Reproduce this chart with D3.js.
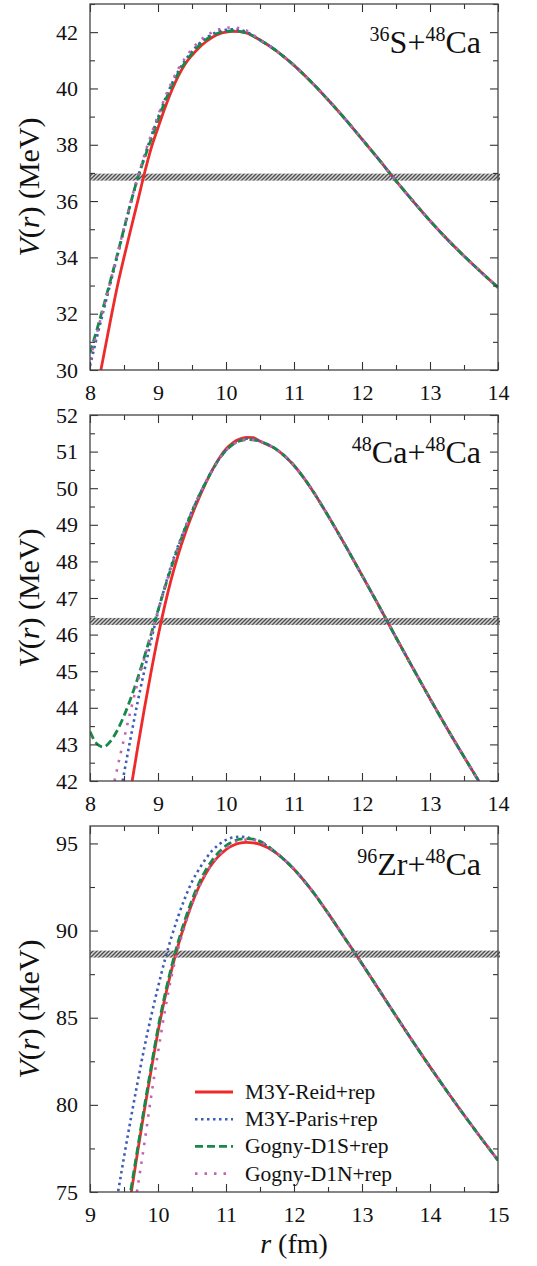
<!DOCTYPE html>
<html>
<head>
<meta charset="utf-8">
<script src="https://cdn.jsdelivr.net/npm/d3@7"></script>
<style>
body { margin: 0; background: #fff; }
</style>
</head>
<body>
<svg id="chart" width="537" height="1266"></svg>
<script>
const seriesNames = ["M3Y-Reid+rep", "M3Y-Paris+rep", "Gogny-D1S+rep", "Gogny-D1N+rep"];

// 36S+48Ca, r (fm) and V (MeV)
const reid1 = [[8.16,30.0],[8.2,30.5],[8.3,31.75],[8.4,32.95],[8.5,34.0],[8.6,35.0],[8.7,35.98],[8.8,36.98],[8.9,37.88],[9.0,38.6],[9.1,39.3],[9.2,39.92],[9.3,40.45],[9.4,40.87],[9.5,41.18],[9.6,41.44],[9.7,41.65],[9.8,41.82],[9.9,41.94],[10.0,42.0],[10.1,42.03],[10.2,42.02],[10.3,41.97]];
const paris1 = [[8.0,30.15],[8.1,31.15],[8.2,32.12],[8.3,33.07],[8.4,34.02],[8.5,34.98],[8.6,35.92],[8.7,36.8],[8.8,37.58],[8.9,38.3],[9.0,38.97],[9.1,39.6],[9.2,40.15],[9.3,40.62],[9.4,41.0],[9.5,41.32],[9.6,41.58],[9.7,41.78],[9.8,41.93],[9.9,42.03],[10.0,42.08],[10.1,42.1],[10.2,42.08],[10.3,42.01]];
const d1s1 = [[8.0,30.6],[8.1,31.42],[8.2,32.28],[8.3,33.17],[8.4,34.08],[8.5,35.02],[8.6,35.95],[8.7,36.8],[8.8,37.52],[8.9,38.2],[9.0,38.88],[9.1,39.52],[9.2,40.08],[9.3,40.55],[9.4,40.93],[9.5,41.25],[9.6,41.52],[9.7,41.73],[9.8,41.88],[9.9,41.98],[10.0,42.03],[10.1,42.05],[10.2,42.03],[10.3,41.97]];
const d1n1 = [[8.0,30.38],[8.1,31.3],[8.2,32.22],[8.3,33.15],[8.4,34.1],[8.5,35.05],[8.6,35.98],[8.7,36.85],[8.8,37.63],[8.9,38.36],[9.0,39.03],[9.1,39.66],[9.2,40.22],[9.3,40.7],[9.4,41.08],[9.5,41.4],[9.6,41.66],[9.7,41.86],[9.8,42.0],[9.9,42.1],[10.0,42.15],[10.1,42.17],[10.2,42.14],[10.3,42.06]];
const tail1 = [[10.5,41.72],[10.75,41.32],[11,40.82],[11.25,40.24],[11.5,39.6],[11.75,38.92],[12,38.2],[12.25,37.47],[12.5,36.72],[12.75,36.0],[13,35.3],[13.25,34.65],[13.5,34.05],[13.75,33.48],[14,32.93]];

// 48Ca+48Ca
const reid2 = [[8.62,42.0],[8.7,42.9],[8.8,43.98],[8.9,45.0],[9.0,45.95],[9.1,46.8],[9.2,47.55],[9.3,48.2],[9.4,48.77],[9.5,49.27],[9.6,49.72],[9.7,50.13],[9.8,50.5],[9.9,50.82],[10.0,51.07],[10.1,51.24],[10.2,51.34],[10.3,51.39],[10.4,51.38]];
const paris2 = [[8.48,42.0],[8.6,43.2],[8.7,44.15],[8.8,45.02],[8.9,45.85],[9.0,46.62],[9.1,47.3],[9.2,47.92],[9.3,48.45],[9.4,48.93],[9.5,49.38],[9.6,49.79],[9.7,50.16],[9.8,50.5],[9.9,50.8],[10.0,51.04],[10.1,51.2],[10.2,51.3],[10.3,51.35],[10.4,51.35]];
const d1s2 = [[8.0,43.35],[8.1,43.02],[8.2,42.93],[8.3,43.08],[8.4,43.38],[8.5,43.78],[8.6,44.26],[8.7,44.8],[8.8,45.4],[8.9,46.02],[9.0,46.66],[9.1,47.28],[9.2,47.86],[9.3,48.4],[9.4,48.9],[9.5,49.36],[9.6,49.78],[9.7,50.15],[9.8,50.5],[9.9,50.8],[10.0,51.03],[10.1,51.19],[10.2,51.29],[10.3,51.33],[10.4,51.32]];
const d1n2 = [[8.36,42.0],[8.45,42.75],[8.5,43.15],[8.6,43.94],[8.7,44.68],[8.8,45.35],[8.9,46.0],[9.0,46.66],[9.1,47.28],[9.2,47.86],[9.3,48.4],[9.4,48.9],[9.5,49.36],[9.6,49.78],[9.7,50.15],[9.8,50.5],[9.9,50.8],[10.0,51.03],[10.1,51.19],[10.2,51.29],[10.3,51.33],[10.4,51.32]];
const tail2 = [[10.5,51.28],[10.75,51.05],[11,50.62],[11.25,50.0],[11.5,49.25],[11.75,48.45],[12,47.62],[12.25,46.78],[12.5,45.92],[12.75,45.08],[13,44.25],[13.25,43.44],[13.5,42.66],[13.75,41.9]];

// 96Zr+48Ca
const reid3 = [[9.6,74.8],[9.7,77.3],[9.8,79.7],[9.9,82.0],[10.0,84.2],[10.1,86.1],[10.2,87.75],[10.3,89.2],[10.4,90.45],[10.5,91.55],[10.6,92.5],[10.7,93.25],[10.8,93.85],[10.9,94.3],[11.0,94.65],[11.1,94.88],[11.2,95.02],[11.3,95.06],[11.4,95.03],[11.5,94.95]];
const paris3 = [[9.4,74.7],[9.5,77.0],[9.6,79.2],[9.7,81.3],[9.8,83.3],[9.9,85.1],[10.0,86.75],[10.1,88.3],[10.2,89.65],[10.3,90.85],[10.4,91.9],[10.5,92.8],[10.6,93.5],[10.7,94.1],[10.8,94.6],[10.9,94.95],[11.0,95.2],[11.1,95.34],[11.2,95.38],[11.3,95.35],[11.4,95.25],[11.5,95.1]];
const d1s3 = [[9.6,75.1],[9.7,77.5],[9.8,79.9],[9.9,82.2],[10.0,84.4],[10.1,86.3],[10.2,87.95],[10.3,89.4],[10.4,90.65],[10.5,91.75],[10.6,92.7],[10.7,93.45],[10.8,94.05],[10.9,94.52],[11.0,94.87],[11.1,95.1],[11.2,95.24],[11.3,95.28],[11.4,95.25],[11.5,95.12]];
const d1n3 = [[9.69,75.0],[9.8,77.8],[9.9,80.5],[10.0,83.0],[10.1,85.35],[10.2,87.4],[10.3,89.0],[10.4,90.35],[10.5,91.5],[10.6,92.45],[10.7,93.25],[10.8,93.85],[10.9,94.35],[11.0,94.72],[11.1,95.0],[11.2,95.16],[11.3,95.22],[11.4,95.2],[11.5,95.1]];
const tail3 = [[11.75,94.42],[12,93.52],[12.25,92.36],[12.5,91.0],[12.75,89.55],[13,88.1],[13.25,86.6],[13.5,85.1],[13.75,83.62],[14,82.18],[14.25,80.78],[14.5,79.42],[14.75,78.1],[15,76.82]];

// barrier-energy bands (MeV)
const bandValues = [36.85, 46.36, 88.65];

const xTicks1 = [8, 9, 10, 11, 12, 13, 14];
const xTicks3 = [9, 10, 11, 12, 13, 14, 15];
const yTicks1 = [30, 32, 34, 36, 38, 40, 42];
const yTicks2 = [42, 43, 44, 45, 46, 47, 48, 49, 50, 51, 52];
const yTicks3 = [75, 80, 85, 90, 95];

const reactionLabels = [["36", "S+", "48", "Ca"], ["48", "Ca+", "48", "Ca"], ["96", "Zr+", "48", "Ca"]];

const panels = [
    {xDomain: [8, 14], yDomain: [30, 43], xTicks: xTicks1, yTicks: yTicks1, yMinor: 1,
     series: [reid1, paris1, d1s1, d1n1].map(s => s.concat(tail1))},
    {xDomain: [8, 14], yDomain: [42, 52], xTicks: xTicks1, yTicks: yTicks2, yMinor: 0.5,
     series: [reid2, paris2, d1s2, d1n2].map(s => s.concat(tail2))},
    {xDomain: [9, 15], yDomain: [75, 96], xTicks: xTicks3, yTicks: yTicks3, yMinor: 2.5,
     series: [reid3, paris3, d1s3, d1n3].map(s => s.concat(tail3))}
];

const styles = [
    {color: "#ee2a2a", dash: null, width: 2.8},
    {color: "#3d5db8", dash: "2.5,3.5", width: 2.6},
    {color: "#17894a", dash: "8,4", width: 2.8},
    {color: "#c761b5", dash: "2.5,7", width: 2.6}
];

let left = 90, right = 498, plotH = 366;
let plotW = right - left;
const panelTops = [4, 415, 826];
const serif = '"Liberation Serif"';

let svg = d3.select("#chart");
let defs = svg.append("defs");
let hatch = defs.append("pattern")
    .attr("id", "hatch")
    .attr("patternUnits", "userSpaceOnUse")
    .attr("width", 4).attr("height", 4);
hatch.append("rect").attr("width", 4).attr("height", 4).attr("fill", "#cfcfcf");
hatch.append("path")
    .attr("d", "M-1,1 l2,-2 M0,4 l4,-4 M3,5 l2,-2")
    .attr("stroke", "#3a3a3a").attr("stroke-width", 1.3);

function styleAxis(sel) {
    sel.select(".domain").remove();
    sel.selectAll("line").attr("stroke", "#333").attr("stroke-width", 1.1);
    sel.attr("font-size", 22).attr("font-family", null);
    sel.selectAll("text").style("font-family", serif).attr("fill", "#111");
}

function addText(parent) {
    return parent.append("text").style("font-family", serif).attr("fill", "#111");
}

panels.forEach((p, i) => {
    let top = panelTops[i];
    let g = svg.append("g").attr("transform", "translate(" + left + "," + top + ")");

    let x = d3.scaleLinear().domain(p.xDomain).range([0, plotW]);
    let y = d3.scaleLinear().domain(p.yDomain).range([plotH, 0]);

    defs.append("clipPath").attr("id", "clip" + i)
        .append("rect").attr("width", plotW).attr("height", plotH);

    let xMinor = d3.range(p.xDomain[0] + 0.5, p.xDomain[1], 1);
    let yMinor = d3.range(p.yDomain[0], p.yDomain[1] + 0.001, p.yMinor).filter(v => !p.yTicks.includes(v));

    // band
    g.append("rect")
        .attr("x", 0).attr("width", plotW + 2)
        .attr("y", y(bandValues[i]) - 3.5).attr("height", 7)
        .attr("fill", "url(#hatch)").attr("opacity", 0.9);

    // curves
    let line = d3.line().x(d => x(d[0])).y(d => y(d[1])).curve(d3.curveMonotoneX);
    let lines = g.append("g").attr("clip-path", "url(#clip" + i + ")");
    p.series.forEach((s, k) => {
        lines.append("path")
            .datum(s)
            .attr("d", line)
            .attr("fill", "none")
            .attr("stroke", styles[k].color)
            .attr("stroke-width", styles[k].width)
            .attr("stroke-dasharray", styles[k].dash);
    });

    // axes, ticks pointing inward
    g.append("g").attr("transform", "translate(0," + plotH + ")")
        .call(d3.axisBottom(x).tickValues(p.xTicks).tickSize(-8).tickPadding(14.5).tickFormat(d3.format("d")))
        .call(styleAxis);
    g.append("g").attr("transform", "translate(0," + plotH + ")")
        .call(d3.axisBottom(x).tickValues(xMinor).tickSize(-5).tickFormat(""))
        .call(styleAxis);
    g.append("g")
        .call(d3.axisTop(x).tickValues(p.xTicks).tickSize(-8).tickFormat(""))
        .call(styleAxis);
    g.append("g")
        .call(d3.axisTop(x).tickValues(xMinor).tickSize(-5).tickFormat(""))
        .call(styleAxis);
    g.append("g")
        .call(d3.axisLeft(y).tickValues(p.yTicks).tickSize(-8).tickPadding(12).tickFormat(d3.format("d")))
        .call(styleAxis);
    g.append("g")
        .call(d3.axisLeft(y).tickValues(yMinor).tickSize(-5).tickFormat(""))
        .call(styleAxis);
    g.append("g").attr("transform", "translate(" + plotW + ",0)")
        .call(d3.axisRight(y).tickValues(p.yTicks).tickSize(-8).tickFormat(""))
        .call(styleAxis);
    g.append("g").attr("transform", "translate(" + plotW + ",0)")
        .call(d3.axisRight(y).tickValues(yMinor).tickSize(-5).tickFormat(""))
        .call(styleAxis);

    g.append("rect")
        .attr("width", plotW).attr("height", plotH)
        .attr("fill", "none").attr("stroke", "#444").attr("stroke-width", 1.3);

    // reaction label
    let lab = reactionLabels[i];
    let t = addText(g)
        .attr("x", 391).attr("y", [49, 48, 49][i])
        .attr("text-anchor", "end").attr("font-size", 32);
    t.append("tspan").attr("font-size", 20).attr("dy", -12.5).text(lab[0]);
    t.append("tspan").attr("dy", 12.5).text(lab[1]);
    t.append("tspan").attr("font-size", 20).attr("dy", -12.5).text(lab[2]);
    t.append("tspan").attr("dy", 12.5).text(lab[3]);

    // y title
    let yt = addText(svg)
        .attr("transform", "translate(39," + (top + plotH / 2) + ") rotate(-90)")
        .attr("text-anchor", "middle").attr("font-size", 30);
    yt.append("tspan").attr("font-style", "italic").text("V");
    yt.append("tspan").text("(");
    yt.append("tspan").attr("font-style", "italic").text("r");
    yt.append("tspan").text(") (MeV)");

    if (i === 2) {
        let xt = addText(svg)
            .attr("x", left + plotW / 2).attr("y", 1253)
            .attr("text-anchor", "middle").attr("font-size", 28);
        xt.append("tspan").attr("font-style", "italic").text("r");
        xt.append("tspan").text(" (fm)");

        // legend
        let leg = svg.append("g").attr("transform", "translate(195,1092)");
        seriesNames.forEach((name, k) => {
            let row = leg.append("g").attr("transform", "translate(0," + (k * 27.2) + ")");
            row.append("line")
                .attr("x1", 0).attr("x2", 38)
                .attr("stroke", styles[k].color)
                .attr("stroke-width", styles[k].width)
                .attr("stroke-dasharray", styles[k].dash);
            addText(row)
                .attr("x", 50).attr("y", 7)
                .attr("font-size", 21.5)
                .text(name);
        });
    }
});
</script>
</body>
</html>
